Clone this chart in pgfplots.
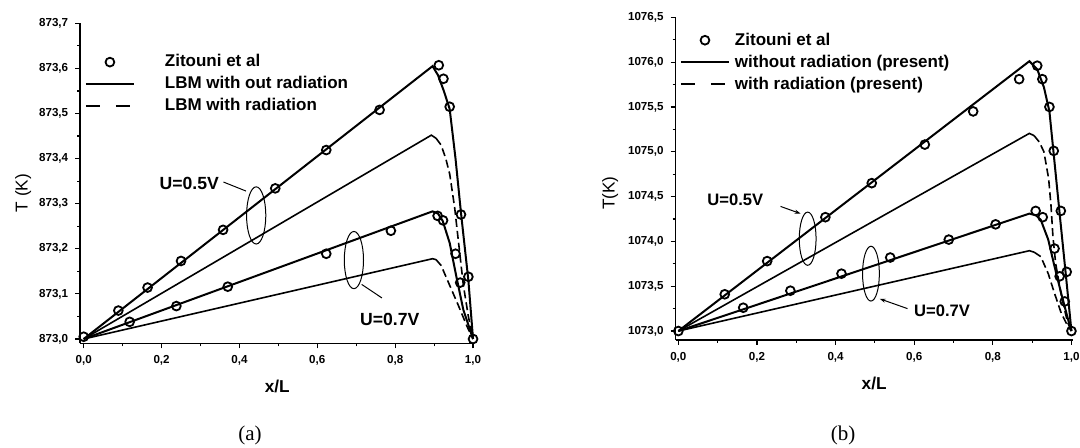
\documentclass[border=0pt]{standalone}
\usepackage{fontspec}
\setmainfont{Liberation Sans}
\newfontfamily\capfont{Liberation Serif}
\usepackage{pgfplots}
\pgfplotsset{compat=1.18}
\usetikzlibrary{arrows.meta}

\pgfplotsset{
  panel/.style={
    scale only axis,
    clip=false,
    axis x line*=bottom,
    axis y line*=left,
    axis line style={line width=0.8pt},
    tick align=outside,
    major tick length=2.5pt,
    minor tick length=1.5pt,
    every tick/.style={black, line width=0.6pt},
    tick label style={font=\fontsize{5.8}{6}\selectfont\bfseries},
    /pgf/number format/assume math mode=true,
    /pgf/number format/use comma,
    /pgf/number format/1000 sep={},
    /pgf/number format/fixed,
    /pgf/number format/fixed zerofill,
    /pgf/number format/precision=1,
    scaled ticks=false,
    xtick={0,0.2,0.4,0.6,0.8,1},
    minor x tick num=1,
    minor y tick num=1,
    xlabel={\bfseries x/L},
    xlabel style={font=\fontsize{8.6}{9}\selectfont, at={(axis description cs:0.5,-0.135)}, anchor=center},
    ylabel style={font=\fontsize{8.6}{9}\selectfont, anchor=center},
    legend cell align=left,
    legend style={draw=none, fill=none, inner sep=0pt, outer sep=0pt,
      anchor=north west, row sep=2.6pt,
      nodes={inner sep=0pt, text height=6.6pt, text depth=1.8pt},
      font=\fontsize{8.5}{9}\selectfont\bfseries},
  },
  zit/.style={only marks, mark=o, mark size=2.2pt, line width=0.9pt, black,
    legend image code/.code={\draw[##1] plot coordinates {(12pt,0pt)};}},
  thick/.style={black, line width=1pt,
    legend image code/.code={\draw[##1] (0pt,0pt) -- (24pt,0pt);}},
  thin/.style={black, line width=0.8pt},
  dash/.style={black, line width=0.8pt, dash pattern=on 4pt off 2pt,
    legend image code/.code={\draw[##1, line width=1pt, dash pattern=on 7pt off 8pt] (0pt,0pt) -- (24pt,0pt);}},
}

\begin{document}
\begin{tikzpicture}
\useasboundingbox (0,0) rectangle (540pt,224pt);

% ---------------- panel (a)
\begin{axis}[panel,
  at={(40.1pt,52.25pt)}, anchor=south west,
  width=197pt, height=160.1pt,
  xmin=-0.009, xmax=1.003,
  ymin=872.99, ymax=873.7,
  ytick={873.0,873.1,873.2,873.3,873.4,873.5,873.6,873.7},
  ylabel={T (K)},
  ylabel style={at={(axis description cs:-0.145,0.47)}},
  legend style={at={(axis description cs:0.012,0.905)}, column sep=15pt},
]
\addplot[zit] coordinates {
  (0,873.005) (0.089,873.063) (0.164,873.114) (0.250,873.173) (0.358,873.242)
  (0.492,873.334) (0.623,873.419) (0.760,873.508) (0.912,873.607) (0.924,873.577)
  (0.940,873.515) (0.969,873.276) (0.988,873.138) (1.0,873.0)};
\addlegendentry{Zitouni et al}
\addplot[zit, forget plot] coordinates {
  (0.118,873.038) (0.238,873.073) (0.370,873.116) (0.623,873.189) (0.789,873.240)
  (0.909,873.273) (0.923,873.263) (0.955,873.189) (0.967,873.125)};
\addplot[thick] coordinates {
  (0,873.0) (0.896,873.605) (0.91,873.585) (0.925,873.55) (0.94,873.51)
  (0.955,873.40) (0.969,873.28) (0.988,873.13) (1.0,873.0)};
\addlegendentry{LBM with out radiation}
\addplot[thick, forget plot] coordinates {
  (0,873.0) (0.896,873.283) (0.91,873.278) (0.922,873.262) (0.94,873.213)
  (0.957,873.139) (0.975,873.065) (1.0,873.0)};
\addplot[thin, forget plot] coordinates {
  (0,873.0) (0.893,873.452) (0.905,873.445)};
\addplot[thin, forget plot] coordinates {
  (0,873.0) (0.896,873.178) (0.905,873.176)};
\addplot[dash] coordinates {
  (0.905,873.445) (0.918,873.43) (0.93,873.40) (0.94,873.366) (0.953,873.29)
  (0.962,873.22) (0.975,873.12) (0.988,873.05) (1.0,873.0)};
\addlegendentry{LBM with radiation}
\addplot[dash, forget plot] coordinates {
  (0.905,873.176) (0.918,873.163) (0.94,873.119) (0.962,873.075) (0.985,873.027) (1.0,873.0)};

\draw[line width=0.5pt] (axis cs:0.443,873.274) ellipse [x radius=4.8pt, y radius=14.3pt];
\draw[line width=0.5pt] (axis cs:0.694,873.175) ellipse [x radius=4.8pt, y radius=14.3pt];
\draw[line width=0.5pt] (axis cs:0.359,873.348) -- (axis cs:0.417,873.328);
\draw[line width=0.5pt] (axis cs:0.714,873.121) -- (axis cs:0.766,873.091);
\node[font=\fontsize{8.8}{9}\selectfont\bfseries] at (axis cs:0.271,873.346) {U=0.5V};
\node[font=\fontsize{8.8}{9}\selectfont\bfseries] at (axis cs:0.786,873.043) {U=0.7V};
\end{axis}

% ---------------- panel (b)
\begin{axis}[panel,
  at={(337.8pt,54pt)}, anchor=south west,
  width=198.5pt, height=161.35pt,
  xmin=-0.007, xmax=1.003,
  ymin=1072.9, ymax=1076.5,
  ytick={1073.0,1073.5,1074.0,1074.5,1075.0,1075.5,1076.0,1076.5},
  ylabel={T(K)},
  ylabel style={at={(axis description cs:-0.165,0.455)}},
  legend style={at={(axis description cs:0.011,0.955)}, column sep=2.5pt},
]
\addplot[zit] coordinates {
  (0,1073.0) (0.118,1073.41) (0.226,1073.78) (0.374,1074.27) (0.492,1074.65)
  (0.627,1075.08) (0.750,1075.45) (0.867,1075.81) (0.913,1075.96) (0.926,1075.81)
  (0.944,1075.50) (0.955,1075.01) (0.973,1074.34) (0.988,1073.66) (1.0,1073.0)};
\addlegendentry{Zitouni et al}
\addplot[zit, forget plot] coordinates {
  (0.165,1073.26) (0.285,1073.45) (0.415,1073.64) (0.539,1073.82) (0.688,1074.02)
  (0.807,1074.19) (0.909,1074.34) (0.927,1074.27) (0.957,1073.92) (0.970,1073.61)
  (0.983,1073.33)};
\addplot[thick] coordinates {
  (0,1073.0) (0.893,1076.01) (0.913,1075.92) (0.93,1075.72) (0.944,1075.45)
  (0.955,1074.97) (0.97,1074.31) (0.988,1073.53) (1.0,1073.0)};
\addlegendentry{without radiation (present)}
\addplot[thick, forget plot] coordinates {
  (0,1073.0) (0.893,1074.31) (0.91,1074.29) (0.922,1074.24) (0.941,1074.02)
  (0.957,1073.72) (0.974,1073.42) (0.992,1073.12) (1.0,1073.0)};
\addplot[thin, forget plot] coordinates {
  (0,1073.0) (0.893,1075.205) (0.905,1075.18)};
\addplot[thin, forget plot] coordinates {
  (0,1073.0) (0.893,1073.896) (0.905,1073.88)};
\addplot[dash] coordinates {
  (0.905,1075.18) (0.918,1075.11) (0.93,1075.0) (0.942,1074.7) (0.948,1074.4)
  (0.953,1074.05) (0.96,1073.75) (0.975,1073.38) (0.99,1073.1) (1.0,1073.0)};
\addlegendentry{with radiation (present)}
\addplot[dash, forget plot] coordinates {
  (0.905,1073.88) (0.922,1073.83) (0.941,1073.64) (0.957,1073.42) (0.974,1073.2)
  (0.99,1073.06) (1.0,1073.0)};

\draw[line width=0.5pt] (axis cs:0.329,1074.03) ellipse [x radius=4.2pt, y radius=13.3pt];
\draw[line width=0.5pt] (axis cs:0.490,1073.64) ellipse [x radius=4.2pt, y radius=13.7pt];
\draw[line width=0.5pt, -{Stealth[length=3pt,width=2pt]}] (axis cs:0.26,1074.39) -- (axis cs:0.311,1074.31);
\draw[line width=0.5pt, {Stealth[length=3pt,width=2pt]}-] (axis cs:0.512,1073.36) -- (axis cs:0.583,1073.25);
\node[font=\fontsize{8.3}{9}\selectfont\bfseries] at (axis cs:0.145,1074.46) {U=0.5V};
\node[font=\fontsize{8.3}{9}\selectfont\bfseries] at (axis cs:0.671,1073.23) {U=0.7V};
\end{axis}

\node[font=\capfont\fontsize{10.5}{11}\selectfont] at (125pt,6.5pt) {(a)};
\node[font=\capfont\fontsize{10.5}{11}\selectfont] at (421.5pt,6.5pt) {(b)};
\end{tikzpicture}
\end{document}
